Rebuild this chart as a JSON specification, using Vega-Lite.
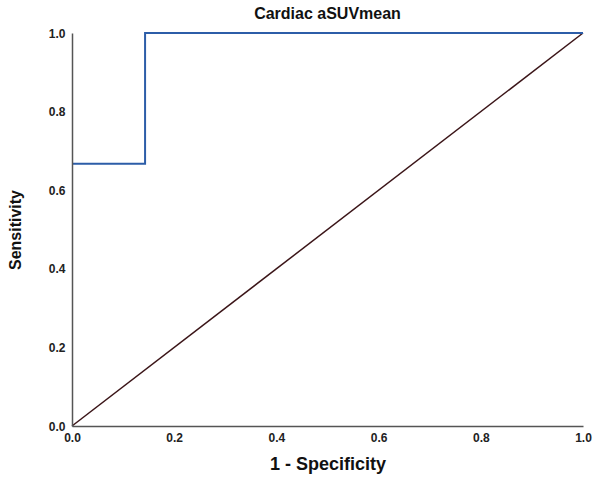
{
  "$schema": "https://vega.github.io/schema/vega-lite/v6.json",
  "autosize": "none",
  "width": 511,
  "height": 393,
  "padding": {"left": 72, "top": 33, "right": 17, "bottom": 54},
  "background": "white",
  "config": {"view": {"stroke": null}},
  "title": {
    "text": "Cardiac aSUVmean",
    "font": "Liberation Sans",
    "fontSize": 16,
    "fontWeight": "bold",
    "color": "#111111",
    "anchor": "middle",
    "offset": 5
  },
  "datasets": {
    "roc": [
      {"fpr": 0, "tpr": 0.667, "order": 1},
      {"fpr": 0.143, "tpr": 0.667, "order": 2},
      {"fpr": 0.143, "tpr": 1, "order": 3},
      {"fpr": 1, "tpr": 1, "order": 4}
    ],
    "ref": [
      {"fpr": 0, "tpr": 0},
      {"fpr": 1, "tpr": 1}
    ]
  },
  "encoding": {
    "x": {
      "field": "fpr", "type": "quantitative",
      "scale": {"domain": [0, 1], "nice": false, "zero": false},
      "axis": {
        "title": "1 - Specificity", "values": [0, 0.2, 0.4, 0.6, 0.8, 1],
        "format": ".1f", "grid": false, "ticks": false, "domainColor": "#555555", "domainWidth": 1.5,
        "labelFont": "Liberation Sans", "labelFontSize": 12, "labelFontWeight": "bold", "labelColor": "#222222",
        "labelPadding": 6, "labelFlush": false,
        "titleFont": "Liberation Sans", "titleFontSize": 18, "titleFontWeight": "bold", "titleColor": "#111111",
        "titlePadding": 12, "zindex": 1
      }
    },
    "y": {
      "field": "tpr", "type": "quantitative",
      "scale": {"domain": [0, 1], "nice": false, "zero": false},
      "axis": {
        "title": "Sensitivity", "values": [0, 0.2, 0.4, 0.6, 0.8, 1],
        "format": ".1f", "grid": false, "ticks": false, "domainColor": "#555555", "domainWidth": 1.5,
        "labelFont": "Liberation Sans", "labelFontSize": 12, "labelFontWeight": "bold", "labelColor": "#222222",
        "labelPadding": 7, "labelFlush": false,
        "titleFont": "Liberation Sans", "titleFontSize": 16, "titleFontWeight": "bold", "titleColor": "#111111",
        "titlePadding": 25, "zindex": 1
      }
    }
  },
  "layer": [
    {
      "data": {"name": "ref"},
      "mark": {"type": "line", "color": "#3b1518", "strokeWidth": 1.5},
      "encoding": {}
    },
    {
      "data": {"name": "roc"},
      "mark": {"type": "line", "color": "#2c5da8", "strokeWidth": 2},
      "encoding": {"order": {"field": "order", "type": "quantitative"}}
    }
  ]
}
